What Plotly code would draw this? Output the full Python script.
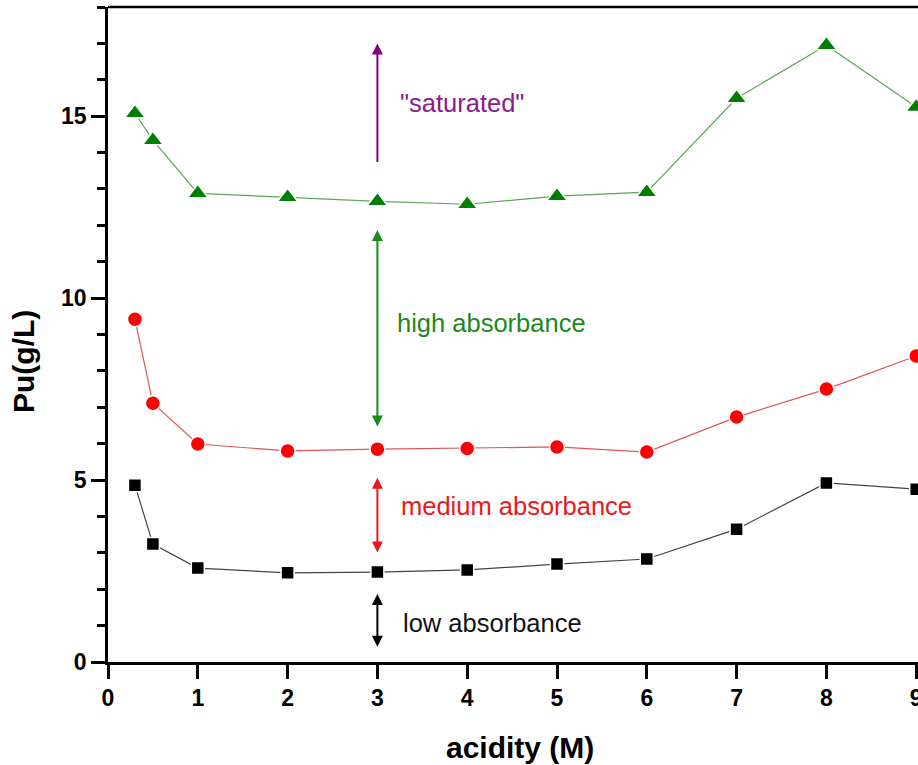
import plotly.graph_objects as go

acidity = [0.3, 0.5, 1, 2, 3, 4, 5, 6, 7, 8, 9]
pu_low = [4.86, 3.24, 2.58, 2.45, 2.47, 2.53, 2.69, 2.83, 3.65, 4.92, 4.75]
pu_medium = [9.42, 7.11, 5.99, 5.80, 5.85, 5.87, 5.91, 5.77, 6.73, 7.50, 8.41]
pu_high = [15.08, 14.34, 12.88, 12.77, 12.66, 12.58, 12.80, 12.91, 15.49, 16.95, 15.25]

x_ticks = [0, 1, 2, 3, 4, 5, 6, 7, 8, 9]
y_ticks = [0, 5, 10, 15]

arrow_x = 3
arrows = [
    # (tip_y, tail_y, color, both_ends)
    (17.0, 13.7, "#800080", False),
    (11.87, 6.43, "#1a8a1a", True),
    (5.06, 2.97, "#e8181d", True),
    (1.87, 0.38, "#000000", True),
]
labels = [
    ('"saturated"', 3.23, 15.36, "#8b1a8b"),
    ("high absorbance", 3.20, 9.31, "#1a8a1a"),
    ("medium absorbance", 3.24, 4.29, "#e8181d"),
    ("low absorbance", 3.26, 1.07, "#111111"),
]

FONT = "Liberation Sans, Arial, sans-serif"

fig = go.Figure()
fig.add_trace(go.Scatter(
    x=acidity, y=pu_low, mode="lines+markers",
    line=dict(color="#444444", width=1.2),
    marker=dict(symbol="square", size=13, color="black", line=dict(color="white", width=1.5)),
))
fig.add_trace(go.Scatter(
    x=acidity, y=pu_medium, mode="lines+markers",
    line=dict(color="#e05555", width=1.2),
    marker=dict(symbol="circle", size=15, color="#ff0000", line=dict(color="white", width=1.5)),
))
fig.add_trace(go.Scatter(
    x=acidity, y=pu_high, mode="lines+markers",
    line=dict(color="#5aa55a", width=1.2),
    marker=dict(symbol="triangle-up", size=18, color="#008000", line=dict(color="white", width=1.5)),
))

annotations = []
for tip, tail, color, both in arrows:
    annotations.append(dict(
        x=arrow_x, y=tip, ax=arrow_x, ay=tail, xref="x", yref="y", axref="x", ayref="y",
        text="", showarrow=True, arrowcolor=color, arrowwidth=2, arrowhead=2, arrowsize=1.1,
        startarrowhead=2, startarrowsize=1.1,
        arrowside="end+start" if both else "end", standoff=0, startstandoff=0,
    ))
for txt, lx, ly, color in labels:
    annotations.append(dict(
        x=lx, y=ly, xref="x", yref="y", text=txt, showarrow=False,
        xanchor="left", yanchor="middle", font=dict(family=FONT, size=25.5, color=color),
    ))
annotations.append(dict(
    x=(520 - 108) / 810, y=-0.13, xref="paper", yref="paper", text="<b>acidity (M)</b>",
    showarrow=False, xanchor="center", yanchor="middle", font=dict(family=FONT, size=30, color="black"),
))
annotations.append(dict(
    x=(23 - 108) / 810, y=(662 - 362) / 655, xref="paper", yref="paper", text="<b>Pu(g/L)</b>",
    showarrow=False, xanchor="center", yanchor="middle", textangle=-90,
    font=dict(family=FONT, size=30, color="black"),
))

fig.update_layout(
    width=918, height=765,
    margin=dict(l=108, r=0, t=7, b=103, autoexpand=False),
    plot_bgcolor="white", paper_bgcolor="white",
    showlegend=False,
    annotations=annotations,
    shapes=[dict(type="line", xref="paper", yref="paper", x0=0, x1=1, y0=1, y1=1,
                 line=dict(color="black", width=2.5))],
    xaxis=dict(
        range=[0, 9.02], tickvals=x_ticks, ticktext=[str(v) for v in x_ticks],
        showgrid=False, zeroline=False, showline=True, linecolor="black", linewidth=2.5,
        ticks="outside", ticklen=14, tickwidth=2.5, tickcolor="black",
        ticklabeloverflow="allow", automargin=False,
        tickfont=dict(family=FONT, size=23, color="black", weight="bold"),
    ),
    yaxis=dict(
        range=[0, 18], tickvals=y_ticks, ticktext=[str(v) for v in y_ticks],
        showgrid=False, zeroline=False, showline=True, linecolor="black", linewidth=2.5,
        ticks="outside", ticklen=14, tickwidth=2.5, tickcolor="black", automargin=False,
        tickfont=dict(family=FONT, size=23, color="black", weight="bold"),
        minor=dict(dtick=1, ticks="outside", ticklen=8, tickwidth=2.5, tickcolor="black", showgrid=False),
    ),
)

fig.write_html("out.html")
